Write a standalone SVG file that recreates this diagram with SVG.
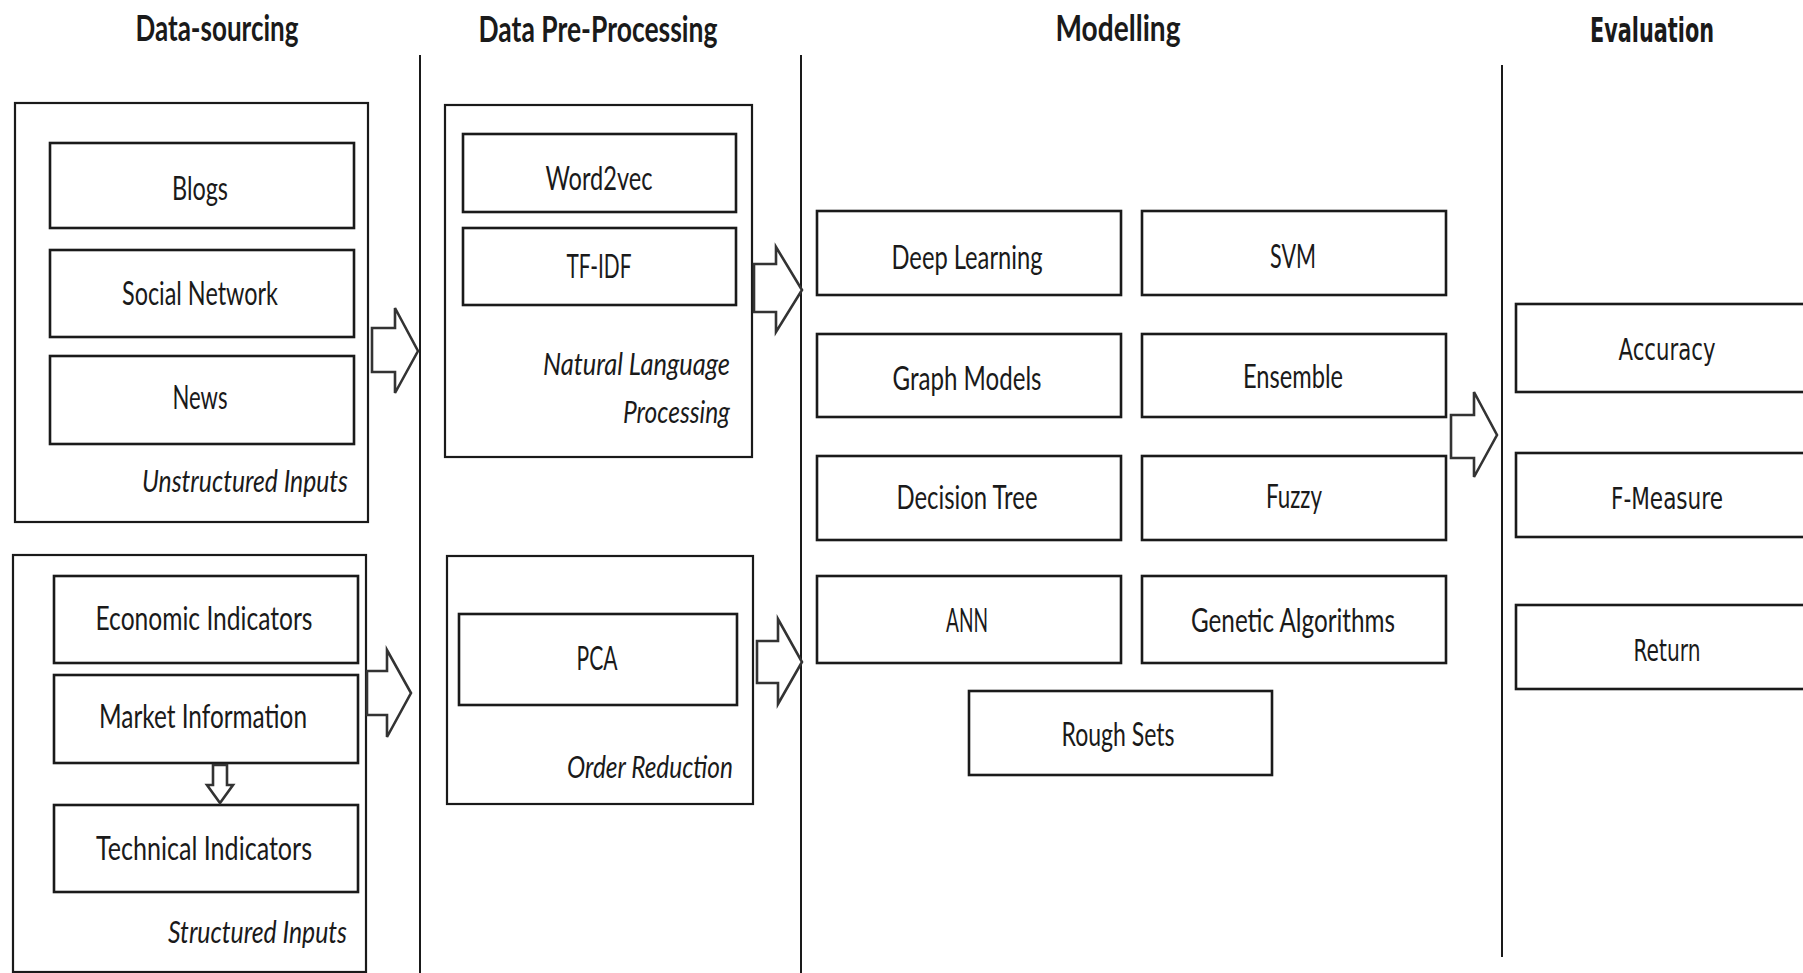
<svg xmlns="http://www.w3.org/2000/svg" width="1803" height="973" viewBox="0 0 1803 973">
<style>
.bg{fill:#ffffff}
.box{fill:#ffffff;stroke:#1a1a1a;stroke-width:2.6}
.outer{fill:#ffffff;stroke:#1a1a1a;stroke-width:2.2}
.div{stroke:#1a1a1a;stroke-width:2}
.arrow{fill:#ffffff;stroke:#333333;stroke-width:2.6;stroke-linejoin:miter}
.title{font-family:Lato,"Liberation Sans",sans-serif;font-weight:bold;font-size:36px;fill:#1a1a1a;text-anchor:middle}
.lbl{font-family:Lato,"Liberation Sans",sans-serif;font-size:32px;fill:#1a1a1a;text-anchor:middle}
.it{font-family:Lato,"Liberation Sans",sans-serif;font-style:italic;font-size:31px;fill:#1a1a1a;text-anchor:end}
.ev{font-family:"DejaVu Sans",Verdana,sans-serif;font-size:30px;fill:#1a1a1a;text-anchor:middle}
.evt{font-family:"DejaVu Sans",Verdana,sans-serif;font-weight:bold;font-size:33px;fill:#1a1a1a;text-anchor:middle}
</style>
<rect class="bg" x="0" y="0" width="1803" height="973"/>

<g id="lanes">
  <line class="div" x1="420" y1="55" x2="420" y2="973"/>
  <line class="div" x1="801" y1="55" x2="801" y2="973"/>
  <line class="div" x1="1502" y1="65" x2="1502" y2="957"/>
  <text class="title" x="217" y="41" textLength="163" lengthAdjust="spacingAndGlyphs">Data-sourcing</text>
  <text class="title" x="598" y="42" textLength="239" lengthAdjust="spacingAndGlyphs">Data Pre-Processing</text>
  <text class="title" x="1118" y="41" textLength="125" lengthAdjust="spacingAndGlyphs">Modelling</text>
  <text class="evt" x="1652" y="42" textLength="124" lengthAdjust="spacingAndGlyphs">Evaluation</text>
</g>

<g id="unstructured-inputs">
  <rect class="outer" x="15" y="103" width="353" height="419"/>
  <text class="it" x="348" y="492" textLength="206" lengthAdjust="spacingAndGlyphs">Unstructured Inputs</text>
</g>
<g id="blogs">
  <rect class="box" x="50" y="143" width="304" height="85"/>
  <text class="lbl" x="200" y="200" textLength="56" lengthAdjust="spacingAndGlyphs">Blogs</text>
</g>
<g id="social-network">
  <rect class="box" x="50" y="250" width="304" height="87"/>
  <text class="lbl" x="200" y="305" textLength="156" lengthAdjust="spacingAndGlyphs">Social Network</text>
</g>
<g id="news">
  <rect class="box" x="50" y="356" width="304" height="88"/>
  <text class="lbl" x="200" y="409" textLength="55" lengthAdjust="spacingAndGlyphs">News</text>
</g>

<g id="structured-inputs">
  <rect class="outer" x="13" y="555" width="353" height="417"/>
  <text class="it" x="347" y="943" textLength="179" lengthAdjust="spacingAndGlyphs">Structured Inputs</text>
</g>
<g id="economic-indicators">
  <rect class="box" x="54" y="576" width="304" height="87"/>
  <text class="lbl" x="204" y="630" textLength="217" lengthAdjust="spacingAndGlyphs">Economic Indicators</text>
</g>
<g id="market-information">
  <rect class="box" x="54" y="675" width="304" height="88"/>
  <text class="lbl" x="203" y="728" textLength="208" lengthAdjust="spacingAndGlyphs">Market Information</text>
</g>
<g id="technical-indicators">
  <rect class="box" x="54" y="805" width="304" height="87"/>
  <text class="lbl" x="204" y="860" textLength="216" lengthAdjust="spacingAndGlyphs">Technical Indicators</text>
</g>

<g id="nlp">
  <rect class="outer" x="445" y="105" width="307" height="352"/>
  <text class="it" x="730" y="375" textLength="187" lengthAdjust="spacingAndGlyphs">Natural Language</text>
  <text class="it" x="730" y="423" textLength="107" lengthAdjust="spacingAndGlyphs">Processing</text>
</g>
<g id="word2vec">
  <rect class="box" x="463" y="134" width="273" height="78"/>
  <text class="lbl" x="599" y="190" textLength="107" lengthAdjust="spacingAndGlyphs">Word2vec</text>
</g>
<g id="tf-idf">
  <rect class="box" x="463" y="228" width="273" height="77"/>
  <text class="lbl" x="599" y="278" textLength="65" lengthAdjust="spacingAndGlyphs">TF-IDF</text>
</g>

<g id="order-reduction">
  <rect class="outer" x="447" y="556" width="306" height="248"/>
  <text class="it" x="733" y="778" textLength="166" lengthAdjust="spacingAndGlyphs">Order Reduction</text>
</g>
<g id="pca">
  <rect class="box" x="459" y="614" width="278" height="91"/>
  <text class="lbl" x="597" y="670" textLength="41" lengthAdjust="spacingAndGlyphs">PCA</text>
</g>

<g id="deep-learning">
  <rect class="box" x="817" y="211" width="304" height="84"/>
  <text class="lbl" x="967" y="269" textLength="151" lengthAdjust="spacingAndGlyphs">Deep Learning</text>
</g>
<g id="svm">
  <rect class="box" x="1142" y="211" width="304" height="84"/>
  <text class="lbl" x="1293" y="268" textLength="46" lengthAdjust="spacingAndGlyphs">SVM</text>
</g>
<g id="graph-models">
  <rect class="box" x="817" y="334" width="304" height="83"/>
  <text class="lbl" x="967" y="390" textLength="149" lengthAdjust="spacingAndGlyphs">Graph Models</text>
</g>
<g id="ensemble">
  <rect class="box" x="1142" y="334" width="304" height="83"/>
  <text class="lbl" x="1293" y="388" textLength="100" lengthAdjust="spacingAndGlyphs">Ensemble</text>
</g>
<g id="decision-tree">
  <rect class="box" x="817" y="456" width="304" height="84"/>
  <text class="lbl" x="967" y="509" textLength="141" lengthAdjust="spacingAndGlyphs">Decision Tree</text>
</g>
<g id="fuzzy">
  <rect class="box" x="1142" y="456" width="304" height="84"/>
  <text class="lbl" x="1294" y="508" textLength="56" lengthAdjust="spacingAndGlyphs">Fuzzy</text>
</g>
<g id="ann">
  <rect class="box" x="817" y="576" width="304" height="87"/>
  <text class="lbl" x="967" y="632" textLength="42" lengthAdjust="spacingAndGlyphs">ANN</text>
</g>
<g id="genetic-algorithms">
  <rect class="box" x="1142" y="576" width="304" height="87"/>
  <text class="lbl" x="1293" y="632" textLength="204" lengthAdjust="spacingAndGlyphs">Genetic Algorithms</text>
</g>
<g id="rough-sets">
  <rect class="box" x="969" y="691" width="303" height="84"/>
  <text class="lbl" x="1118" y="746" textLength="113" lengthAdjust="spacingAndGlyphs">Rough Sets</text>
</g>

<g id="accuracy">
  <rect class="box" x="1516" y="304" width="320" height="88"/>
  <text class="ev" x="1667" y="360" textLength="97" lengthAdjust="spacingAndGlyphs">Accuracy</text>
</g>
<g id="f-measure">
  <rect class="box" x="1516" y="453" width="320" height="84"/>
  <text class="ev" x="1667" y="509" textLength="112" lengthAdjust="spacingAndGlyphs">F-Measure</text>
</g>
<g id="return">
  <rect class="box" x="1516" y="605" width="320" height="84"/>
  <text class="ev" x="1667" y="661" textLength="67" lengthAdjust="spacingAndGlyphs">Return</text>
</g>

<g id="connectors">
  <polygon class="arrow" points="372,328 395,328 395,308 418,351 395,393 395,372 372,372"/>
  <polygon class="arrow" points="367,671 387,671 387,650 411,693 387,737 387,715 367,715"/>
  <polygon class="arrow" points="213,765 227,765 227,785 233,785 220,803 207,785 213,785"/>
  <polygon class="arrow" points="754,264 776,264 776,247 802,290 776,332 776,312 754,312"/>
  <polygon class="arrow" points="757,641 778,641 778,619 802,662 778,704 778,683 757,683"/>
  <polygon class="arrow" points="1451,415 1474,415 1474,392 1497,435 1474,477 1474,458 1451,458"/>
</g>
</svg>
